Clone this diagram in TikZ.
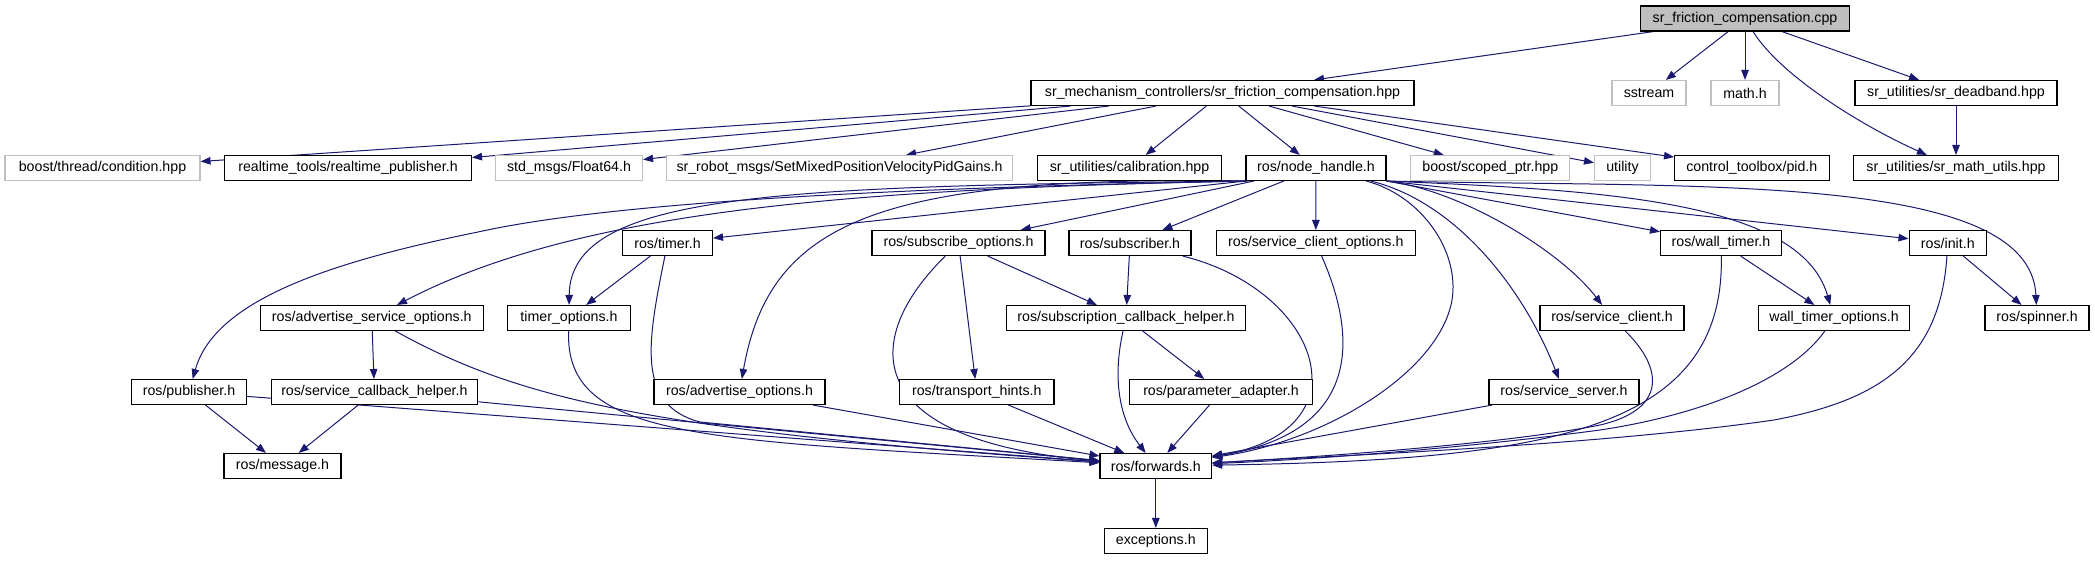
\documentclass[tikz,border=0pt]{standalone}
\usepackage{fontspec}
\setmainfont{Liberation Sans}
\usetikzlibrary{arrows.meta,calc}
\definecolor{edgeblue}{HTML}{191970}
\definecolor{ghostline}{HTML}{BFBFBF}
\definecolor{rootfill}{HTML}{BFBFBF}
\pgfdeclarelayer{background}
\pgfsetlayers{background,main}
\begin{document}
\begin{tikzpicture}[x=1pt,y=-1pt,
  box/.style={draw=black, line width=1.1pt, minimum height=25pt, inner sep=0pt, fill=white,
    font=\fontsize{14.2}{16}\selectfont},
  ghost/.style={box, draw=ghostline},
  edge/.style={draw=edgeblue, line width=1pt, -{Triangle[length=10pt,width=7.5pt]}}]
\useasboundingbox (0,0) rectangle (2095,560);
% row 0
\node[box, fill=rootfill, minimum width=209pt] (cpp) at (1745,18.5) {sr\_friction\_compensation.cpp};
% row 1
\node[box, minimum width=383pt] (hpp) at (1222.5,93) {sr\_mechanism\_controllers/sr\_friction\_compensation.hpp};
\node[ghost, minimum width=74pt] (sstream) at (1649,93) {sstream};
\node[ghost, minimum width=68pt] (mathh) at (1745,93) {math.h};
\node[box, minimum width=202pt] (deadband) at (1956,93) {sr\_utilities/sr\_deadband.hpp};
% row 2
\node[ghost, minimum width=195pt] (condition) at (102.5,168) {boost/thread/condition.hpp};
\node[box, minimum width=247pt] (rtpub) at (348,168) {realtime\_tools/realtime\_publisher.h};
\node[ghost, minimum width=147pt] (float64) at (569,168) {std\_msgs/Float64.h};
\node[ghost, minimum width=346pt] (setmixed) at (839.5,168) {sr\_robot\_msgs/SetMixedPositionVelocityPidGains.h};
\node[box, minimum width=184pt] (calib) at (1129.5,168) {sr\_utilities/calibration.hpp};
\node[box, minimum width=140pt] (nodeh) at (1316,168) {ros/node\_handle.h};
\node[ghost, minimum width=159pt] (scoped) at (1490.3,168) {boost/scoped\_ptr.hpp};
\node[ghost, minimum width=56pt] (utility) at (1622.5,168) {utility};
\node[box, minimum width=154.5pt] (pid) at (1751.8,168) {control\_toolbox/pid.h};
\node[box, minimum width=205pt] (mathutils) at (1956,168) {sr\_utilities/sr\_math\_utils.hpp};
% row 3
\node[box, minimum width=90pt] (timer) at (667.5,243) {ros/timer.h};
\node[box, minimum width=173pt] (subopts) at (958.5,243) {ros/subscribe\_options.h};
\node[box, minimum width=122pt] (subscriber) at (1130,243) {ros/subscriber.h};
\node[box, minimum width=198.5pt] (scopts) at (1315.8,243) {ros/service\_client\_options.h};
\node[box, minimum width=121pt] (walltimer) at (1721,243) {ros/wall\_timer.h};
\node[box, minimum width=77.5pt] (init) at (1947.8,243) {ros/init.h};
% row 4
\node[box, minimum width=223.5pt] (advsvc) at (371.8,318) {ros/advertise\_service\_options.h};
\node[box, minimum width=123pt] (timeropts) at (569,318) {timer\_options.h};
\node[box, minimum width=238.5pt] (subcb) at (1126,318) {ros/subscription\_callback\_helper.h};
\node[box, minimum width=144pt] (svcclient) at (1612,318) {ros/service\_client.h};
\node[box, minimum width=151.6pt] (wtopts) at (1834,318) {wall\_timer\_options.h};
\node[box, minimum width=104pt] (spinner) at (2037,318) {ros/spinner.h};
% row 5
\node[box, minimum width=114.7pt] (publisher) at (189,392) {ros/publisher.h};
\node[box, minimum width=206.7pt] (svccb) at (374.4,392) {ros/service\_callback\_helper.h};
\node[box, minimum width=171pt] (advopts) at (739.5,392) {ros/advertise\_options.h};
\node[box, minimum width=154.4pt] (transport) at (976.8,392) {ros/transport\_hints.h};
\node[box, minimum width=183pt] (paramad) at (1221,392) {ros/parameter\_adapter.h};
\node[box, minimum width=150pt] (svcserver) at (1564,392) {ros/service\_server.h};
% row 6, 7
\node[box, minimum width=117pt] (message) at (282.5,466) {ros/message.h};
\node[box, minimum width=111.6pt] (forwards) at (1155.8,466) {ros/forwards.h};
\node[box, minimum width=102.5pt] (exceptions) at (1155.8,541) {exceptions.h};

\begin{pgfonlayer}{background}
% edges from cpp
\draw[edge] (cpp) -- (hpp);
\draw[edge] (cpp) -- (sstream);
\draw[edge] (cpp) -- (mathh);
\draw[edge] (cpp) -- (deadband);
\draw[edge] (cpp) .. controls (1780,75) and (1860,125) .. (mathutils);
\draw[edge] (deadband) -- (mathutils);
% edges from hpp
\draw[edge] (hpp) -- (condition);
\draw[edge] (hpp) -- (rtpub);
\draw[edge] (hpp) -- (float64);
\draw[edge] (hpp) -- (setmixed);
\draw[edge] (hpp) -- (calib);
\draw[edge] (hpp) -- (nodeh);
\draw[edge] (hpp) -- (scoped);
\draw[edge] (hpp) -- (utility);
\draw[edge] (hpp) -- (pid);
% edges from node_handle, leftwards
\draw[edge] (nodeh.south west) -- (timer);
\draw[edge] ($(nodeh.south west)+(2,0)$) .. controls (780,186) and (570,192) .. (timeropts);
\draw[edge] (nodeh.south west) .. controls (850,189) and (580,210) .. (advsvc);
\draw[edge] (nodeh.south west) .. controls (1000,186) and (640,196) .. (478,232)
   .. controls (330,262) and (215,300) .. (publisher);
\draw[edge] ($(nodeh.south west)+(8,0)$) .. controls (880,175) and (770,220) .. (advopts);
\draw[edge] (nodeh) -- (subopts);
\draw[edge] (nodeh) -- (subscriber);
\draw[edge] (nodeh) -- (scopts);
% edges from node_handle, rightwards
\draw[edge] (nodeh) .. controls (1420,195) and (1460,250) .. (1452,300)
   .. controls (1440,370) and (1330,440) .. (forwards);
\draw[edge] (nodeh.south east) .. controls (1460,190) and (1560,250) .. (svcclient);
\draw[edge] (nodeh) .. controls (1450,200) and (1520,280) .. (svcserver);
\draw[edge] (nodeh) -- (walltimer);
\draw[edge] (nodeh.south east) .. controls (1600,190) and (1800,200) .. (wtopts);
\draw[edge] (nodeh.south east) -- (init);
\draw[edge] (nodeh.south east) .. controls (1700,188) and (2030,172) .. (spinner);
% row 3 edges
\draw[edge] (timer) -- (timeropts);
\draw[edge] (timer) .. controls (648,340) and (635,405) .. (700,422) -- (forwards);
\draw[edge] (subopts) -- (subcb);
\draw[edge] (subopts) -- (transport);
\draw[edge] (subopts) .. controls (860,340) and (860,440) .. (forwards);
\draw[edge] (subscriber) -- (subcb);
\draw[edge] (subscriber) .. controls (1320,290) and (1370,430) .. (forwards);
\draw[edge] (scopts) .. controls (1350,320) and (1375,430) .. (forwards);
\draw[edge] (walltimer) -- (wtopts);
\draw[edge] (walltimer) .. controls (1725,430) and (1550,460) .. (forwards);
\draw[edge] (init) -- (spinner);
\draw[edge] (init) .. controls (1940,360) and (1880,400) .. (1774,420)
   .. controls (1600,445) and (1350,455) .. (forwards);
% row 4 edges
\draw[edge] (advsvc) -- (svccb);
\draw[edge] (advsvc) .. controls (520,400) and (650,430) .. (forwards);
\draw[edge] (timeropts) .. controls (565,440) and (700,440) .. (forwards);
\draw[edge] (subcb) -- (paramad);
\draw[edge] (subcb) .. controls (1112,380) and (1120,420) .. (forwards);
\draw[edge] (svcclient) .. controls (1665,370) and (1665,410) .. (1600,425)
   .. controls (1500,445) and (1300,458) .. (forwards);
\draw[edge] (wtopts) .. controls (1790,380) and (1700,415) .. (1600,430)
   .. controls (1450,450) and (1300,460) .. (forwards);
% row 5 edges
\draw[edge] (publisher) -- (message);
\draw[edge] (publisher) -- (forwards);
\draw[edge] (svccb) -- (message);
\draw[edge] (svccb) -- (forwards);
\draw[edge] (advopts) -- (forwards);
\draw[edge] (transport) -- (forwards);
\draw[edge] (paramad) -- (forwards);
\draw[edge] (svcserver) -- (forwards);
\draw[edge] (forwards) -- (exceptions);
\end{pgfonlayer}
\end{tikzpicture}
\end{document}
